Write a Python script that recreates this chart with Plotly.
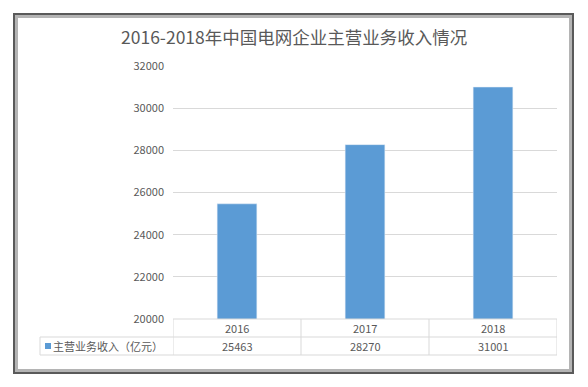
import plotly.graph_objects as go

categories = ["2016", "2017", "2018"]
values = [25463, 28270, 31001]
series_name = "主营业务收入（亿元）"
y_ticks = [20000, 22000, 24000, 26000, 28000, 30000, 32000]
title_text = "2016-2018年中国电网企业主营业务收入情况"

W, H = 588, 387
L, R, T, B = 173, 31, 66, 68
pw, ph = W - L - R, H - T - B

def px(x):
    return (x - L) / pw

def py(y):
    return (H - B - y) / ph

font_cn = "Noto Sans CJK SC, Microsoft YaHei, sans-serif"
bar_color = "#5b9bd5"
grid = "#d9d9d9"
txt = "#595959"

fig = go.Figure()
fig.add_trace(go.Bar(x=list(range(len(categories))), y=values, marker_color=bar_color,
                     width=0.31, name=series_name, showlegend=False, hoverinfo="skip"))

shapes = []
# outer frame (dark line with lighter inner bevel)
shapes.append(dict(type="rect", xref="paper", yref="paper", x0=px(14), x1=px(573), y0=py(373), y1=py(14),
                   line=dict(color="#5a5a5a", width=2), fillcolor="white", layer="below"))
shapes.append(dict(type="rect", xref="paper", yref="paper", x0=px(16.5), x1=px(570.5), y0=py(370.5), y1=py(16.5),
                   line=dict(color="#b4b4b4", width=3), layer="below"))
# table lines
row_y = [H - B, H - B + 18, H - B + 36]
tbl_left = 40
for i, yy in enumerate(row_y):
    x0 = px(173) if i == 0 else px(tbl_left)
    shapes.append(dict(type="line", xref="paper", yref="paper", x0=x0, x1=1, y0=py(yy), y1=py(yy),
                       line=dict(color=grid, width=1)))
for k in range(len(categories) + 1):
    xv = k - 0.5
    shapes.append(dict(type="line", xref="x", yref="paper", x0=xv, x1=xv, y0=py(row_y[2]), y1=py(row_y[0]),
                       line=dict(color=grid, width=1)))
shapes.append(dict(type="line", xref="paper", yref="paper", x0=px(tbl_left), x1=px(tbl_left),
                   y0=py(row_y[2]), y1=py(row_y[1]), line=dict(color=grid, width=1)))
# legend marker
shapes.append(dict(type="rect", xref="paper", yref="paper", x0=px(45), x1=px(51), y0=py(349), y1=py(343),
                   fillcolor=bar_color, line=dict(width=0)))

annotations = []
for i, (c, v) in enumerate(zip(categories, values)):
    annotations.append(dict(x=i, y=py((row_y[0] + row_y[1]) / 2), xref="x", yref="paper", text=c,
                            showarrow=False, font=dict(size=11, color=txt, family=font_cn), yanchor="middle"))
    annotations.append(dict(x=i, y=py((row_y[1] + row_y[2]) / 2), xref="x", yref="paper", text=str(v),
                            showarrow=False, font=dict(size=11, color=txt, family=font_cn), yanchor="middle"))
annotations.append(dict(x=px(51), y=py((row_y[1] + row_y[2]) / 2), xref="paper", yref="paper", text=series_name,
                        showarrow=False, xanchor="left", yanchor="middle",
                        font=dict(size=11, color=txt, family=font_cn)))
annotations.append(dict(x=px(294), y=py(36), xref="paper", yref="paper", text=title_text, showarrow=False,
                        xanchor="center", yanchor="middle", font=dict(size=17.5, color=txt, family=font_cn)))

fig.update_layout(
    width=W, height=H,
    margin=dict(l=L, r=R, t=T, b=B),
    paper_bgcolor="white", plot_bgcolor="white",
    shapes=shapes, annotations=annotations,
    bargap=0.69,
    hovermode=False,
    xaxis=dict(range=[-0.5, len(categories) - 0.5], showticklabels=False, showgrid=False,
               zeroline=False, showline=False, ticks=""),
    yaxis=dict(range=[y_ticks[0], y_ticks[-1]], tickvals=y_ticks, ticktext=[str(t) for t in y_ticks],
               showgrid=True, gridcolor=grid, gridwidth=1, zeroline=False, showline=False,
               tickfont=dict(size=11, color=txt, family=font_cn), ticks="", ticklabelstandoff=8),
)

fig.write_html("out.html", config={"displayModeBar": False},
               post_script="document.body.style.margin='0';document.body.style.overflow='hidden';")
